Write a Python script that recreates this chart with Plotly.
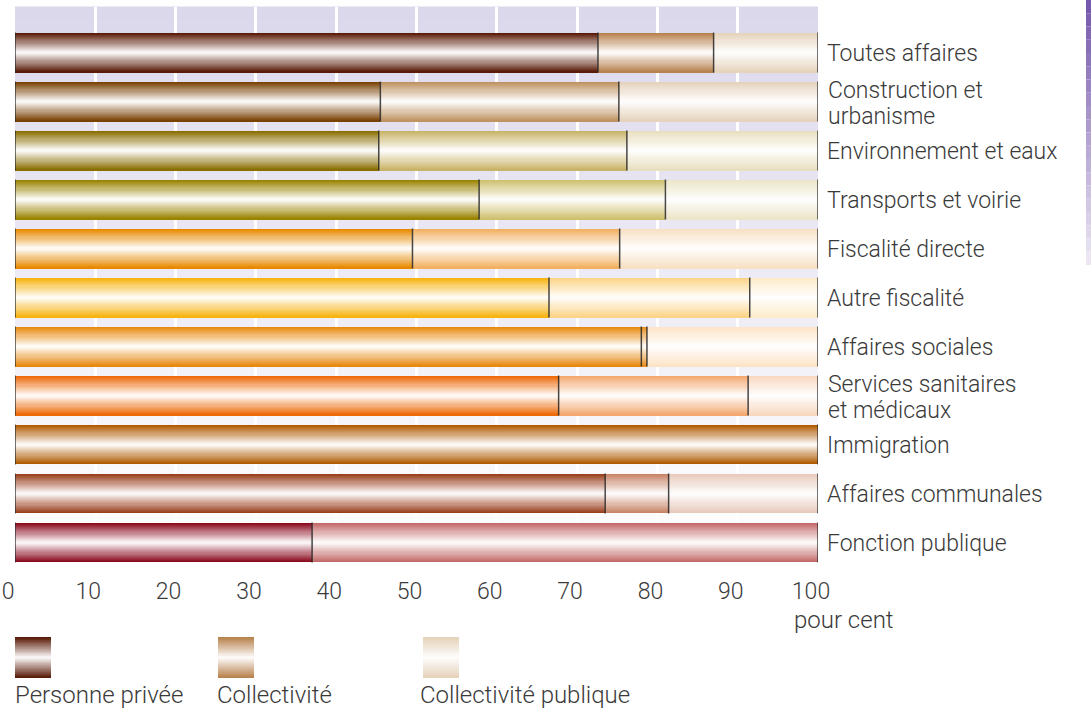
import plotly.graph_objects as go

# ---------------- data ----------------
categories = ["Toutes affaires", "Construction et<br>urbanisme", "Environnement et eaux",
              "Transports et voirie", "Fiscalité directe", "Autre fiscalité",
              "Affaires sociales", "Services sanitaires<br>et médicaux", "Immigration",
              "Affaires communales", "Fonction publique"]
personne_privee = [72.6, 45.5, 45.3, 57.8, 49.5, 66.5, 78.0, 67.7, 100.0, 73.5, 37.0]
collectivite = [14.4, 29.7, 30.9, 23.2, 25.8, 25.0, 0.7, 23.6, 0.0, 7.9, 63.0]
collectivite_publique = [13.0, 24.8, 23.8, 19.0, 24.7, 8.5, 21.3, 8.7, 0.0, 18.6, 0.0]
series_names = ["Personne privée", "Collectivité", "Collectivité publique"]
x_tick_values = [0, 10, 20, 30, 40, 50, 60, 70, 80, 90, 100]
unit_label = "pour cent"

# edge colours (darkest tone) per category for each series
col_privee = ["#5a1c08", "#7a4204", "#8a6e00", "#9a8400", "#e88a00", "#f8b410",
              "#e88a10", "#ee6a08", "#b05a00", "#9a3e1c", "#8a0a1e"]
col_collect = ["#b8824e", "#bf9462", "#c8b468", "#cfc070", "#f2b060", "#fcd488",
               "#e89020", "#f4a870", "#b05a00", "#c88466", "#c46a6a"]
col_public = ["#e6d3bb", "#e5d3bd", "#e8e0c0", "#ece6c8", "#f8e0c4", "#fdeccc",
              "#fde4c8", "#f8d8c0", "#b05a00", "#e8cabc", "#c46a6a"]
legend_cols = ["#5a1c08", "#b8824e", "#e6d3bb"]

FONT = "Roboto Light, Roboto, Liberation Sans, Arial, sans-serif"
TXT = "#3a3a3a"
N = 18          # gradient layers
W = 0.816       # bar thickness (category units)


def hex2rgb(h):
    h = h.lstrip("#")
    return tuple(int(h[i:i + 2], 16) for i in (0, 2, 4))


def mix(h, t):
    r, g, b = hex2rgb(h)
    return "rgb(%d,%d,%d)" % (r + (255 - r) * t, g + (255 - g) * t, b + (255 - b) * t)


def tk(k):
    return 0.95 * (k / (N - 1))


idx = list(range(len(categories)))
base2 = personne_privee
base3 = [a + b for a, b in zip(personne_privee, collectivite)]

fig = go.Figure()
for vals, bases, cols in [(personne_privee, [0] * len(idx), col_privee),
                          (collectivite, base2, col_collect),
                          (collectivite_publique, base3, col_public)]:
    for k in range(N):
        fig.add_trace(go.Bar(
            orientation="h", y=idx, x=vals, base=bases,
            width=W * (1 - k / N),
            marker=dict(color=[mix(c, tk(k)) for c in cols], line=dict(width=0)),
            hoverinfo="skip", showlegend=False))

# segment boundary lines
lx, ly = [], []
for i in idx:
    bounds = [0]
    cum = 0
    for v in (personne_privee[i], collectivite[i], collectivite_publique[i]):
        if v > 0:
            cum += v
            bounds.append(cum)
    for b in bounds:
        lx += [b, b, None]
        ly += [i - W / 2, i + W / 2, None]
fig.add_trace(go.Scatter(x=lx, y=ly, mode="lines",
                         line=dict(color="rgba(40,40,40,0.85)", width=1.5),
                         hoverinfo="skip", showlegend=False, cliponaxis=False))

shapes = []
# lavender -> white background gradient
NB = 40
top_c = "#dcd8ec"
for j in range(NB):
    t = j / (NB - 1)
    shapes.append(dict(type="rect", xref="x domain", yref="y domain",
                       x0=0, x1=1, y0=1 - (j + 1) / NB, y1=1 - j / NB + 0.001,
                       fillcolor=mix(top_c, t), line=dict(width=0), layer="below"))

# legend swatches (paper coords)
PL, PR, PT, PB = 15, 818, 7, 566
def px(xp):
    return (xp - PL) / (PR - PL)
def py(yp):
    return (PB - yp) / (PB - PT)

sw_x = [15, 218, 423]
lab_x = [13, 215, 418]
sw_top, sw_bot = 637, 678
NL = 14
for c, x0 in zip(legend_cols, sw_x):
    h = sw_bot - sw_top
    for k in range(NL):
        d = k * h / (2 * NL)
        shapes.append(dict(type="rect", xref="paper", yref="paper",
                           x0=px(x0), x1=px(x0 + 36), y0=py(sw_bot - d), y1=py(sw_top + d),
                           fillcolor=mix(c, 0.95 * k / (NL - 1)), line=dict(width=0)))

# purple strip at the right edge
NS = 20
for j in range(NS):
    shapes.append(dict(type="rect", xref="paper", yref="paper",
                       x0=px(1086), x1=px(1092), y0=py(265 * (j + 1) / NS), y1=py(265 * j / NS),
                       fillcolor=mix("#7658ac", 0.9 * j / NS), line=dict(width=0)))

tfont = dict(size=23, color=TXT, family=FONT, weight=300)
lfont = dict(size=24, color=TXT, family=FONT, weight=300)
annotations = [dict(text=unit_label, xref="x", x=100, xanchor="left", xshift=-26,
                    yref="paper", y=py(620), yanchor="middle", showarrow=False, font=lfont)]
for name, x0 in zip(series_names, lab_x):
    annotations.append(dict(text=name, xref="paper", x=px(x0), xanchor="left",
                            yref="paper", y=py(695), yanchor="middle", showarrow=False,
                            font=lfont))

# category labels: single-line as tick labels, two-line labels as tighter annotations
tick_text = []
for i, c in enumerate(categories):
    parts = c.split("<br>")
    if len(parts) == 1:
        tick_text.append(c)
    else:
        tick_text.append("")
        for j, p in enumerate(parts):
            annotations.append(dict(text=p, xref="paper", x=1, xanchor="left", xshift=8,
                                    yref="y", y=i, yanchor="middle",
                                    yshift=11 - 26 * j, showarrow=False, font=tfont))

fig.update_layout(
    width=1091, height=711, autosize=False,
    margin=dict(l=PL, r=1091 - PR, t=PT, b=711 - PB, autoexpand=False),
    barmode="overlay", bargap=0,
    paper_bgcolor="white", plot_bgcolor="rgba(0,0,0,0)",
    font=dict(family=FONT, color=TXT, size=23, weight=300),
    shapes=shapes, annotations=annotations, showlegend=False,
    xaxis=dict(range=[0, 100], tickvals=x_tick_values, showgrid=True, automargin=False,
               gridcolor="white", gridwidth=3, zeroline=False, showline=False,
               ticks="", ticklabelstandoff=9, ticklabelshift=-7,
               tickfont=tfont, fixedrange=True),
    yaxis=dict(range=[10.48, -0.93], tickvals=idx, ticktext=tick_text, side="right",
               showgrid=False, zeroline=False, showline=False, ticks="", automargin=False,
               ticklabelstandoff=8, tickfont=tfont, fixedrange=True),
)

fig.write_html("out.html", config={"displayModeBar": False},
               post_script="document.body.style.margin='0';document.body.style.overflow='hidden';")
